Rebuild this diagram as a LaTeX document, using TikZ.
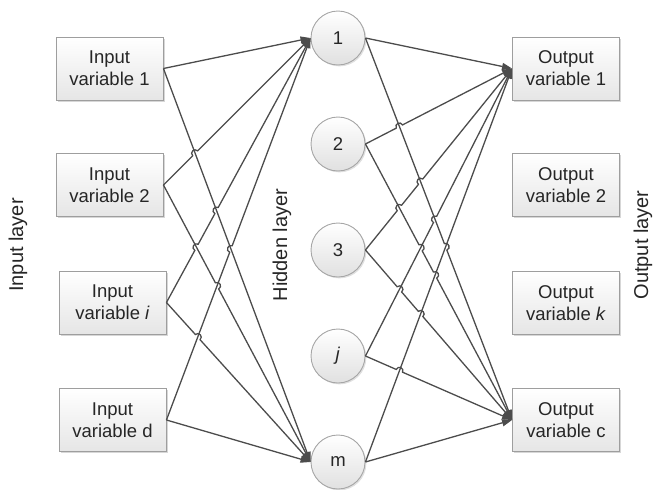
\documentclass[tikz,border=0pt]{standalone}
\usepackage{fontspec}
\setmainfont{Liberation Sans}
\usetikzlibrary{arrows.meta,calc,intersections,shadows}

\tikzset{
  labelfont/.style={font=\fontsize{18.5}{22}\selectfont},
  varbox/.style={labelfont, draw=black!38, line width=0.9pt, top color=white, bottom color=black!10,
    minimum width=107pt, minimum height=63pt, align=center, inner sep=0pt, text=black!85,
    drop shadow={shadow xshift=1.6pt, shadow yshift=-1.6pt, fill=black!35, opacity=0.45}},
  unit/.style={labelfont, circle, draw=black!35, line width=0.9pt, top color=white, bottom color=black!12,
    minimum size=54pt, inner sep=0pt, text=black!85,
    drop shadow={shadow xshift=1.4pt, shadow yshift=-1.4pt, fill=black!30, opacity=0.4}},
  layername/.style={font=\fontsize{20}{24}\selectfont, rotate=90, text=black!85},
  conn/.style={draw=black!70, line width=1.3pt, -{Triangle[length=10pt,width=7pt]}},
  hop/.style={bend left=90, looseness=1.7},
}

\begin{document}
\begin{tikzpicture}[x=1pt, y=-1pt]
\useasboundingbox (0,0) rectangle (662,490);

% input layer
\node[varbox] (in1) at (109.5,68.5) {Input\\variable 1};
\node[varbox] (in2) at (109.5,185)  {Input\\variable 2};
\node[varbox] (ini) at (112.5,302.5) {Input\\variable \textit{i}};
\node[varbox] (ind) at (112.5,420)  {Input\\variable d};

% hidden layer
\node[unit] (h1) at (338,38)  {1};
\node[unit] (h2) at (338,144) {2};
\node[unit] (h3) at (338,250) {3};
\node[unit] (hj) at (338,356) {\textit{j}};
\node[unit] (hm) at (338,462) {m};

% output layer
\node[varbox] (o1) at (566,68.5) {Output\\variable 1};
\node[varbox] (o2) at (566,185)  {Output\\variable 2};
\node[varbox] (ok) at (566,303)  {Output\\variable \textit{k}};
\node[varbox] (oc) at (566,420)  {Output\\variable c};

% layer captions
\node[layername] (lin)  at (18,245)  {Input layer};
\node[layername] (lhid) at (282,245) {Hidden layer};
\node[layername] (lout) at (643,245) {Output layer};

% guide paths used to locate the line jumps
\path[name path=pb] (in1.east) -- (hm.west);
\path[name path=pc] (in2.east) -- (h1.west);
\path[name path=pd] (in2.east) -- (hm.west);
\path[name path=pe] (ini.east) -- (h1.west);
\path[name path=pf] (ini.east) -- (hm.west);
\path[name path=pg] (ind.east) -- (h1.west);

\path[name path=q2] (h1.east) -- (oc.west);
\path[name path=q3] (h2.east) -- (o1.west);
\path[name path=q4] (h2.east) -- (oc.west);
\path[name path=q5] (h3.east) -- (o1.west);
\path[name path=q6] (h3.east) -- (oc.west);
\path[name path=q7] (hj.east) -- (o1.west);
\path[name path=q8] (hj.east) -- (oc.west);
\path[name path=q9] (hm.east) -- (o1.west);

\path[name intersections={of=pc and pb, by=Xcb}];
\path[name intersections={of=pe and pd, by=Xed}];
\path[name intersections={of=pe and pb, by=Xeb}];
\path[name intersections={of=pg and pb, by=Xgb}];
\path[name intersections={of=pd and pg, by=Xdg}];
\path[name intersections={of=pf and pg, by=Xfg}];

\path[name intersections={of=q2 and q9, by=Y29}];
\path[name intersections={of=q3 and q2, by=Y32}];
\path[name intersections={of=q4 and q7, by=Y47}];
\path[name intersections={of=q4 and q9, by=Y49}];
\path[name intersections={of=q5 and q4, by=Y54}];
\path[name intersections={of=q5 and q2, by=Y52}];
\path[name intersections={of=q6 and q7, by=Y67}];
\path[name intersections={of=q6 and q9, by=Y69}];
\path[name intersections={of=q7 and q2, by=Y72}];
\path[name intersections={of=q8 and q9, by=Y89}];

% input -> hidden connections
\draw[conn] (in1.east) -- (h1.west);
\draw[conn] (in1.east) -- (hm.west);
\draw[conn] (in2.east) -- ($(Xcb)!3.5pt!(in2.east)$) to[hop] ($(Xcb)!3.5pt!(h1.west)$) -- (h1.west);
\draw[conn] (in2.east) -- ($(Xdg)!3.5pt!(in2.east)$) to[hop] ($(Xdg)!3.5pt!(hm.west)$) -- (hm.west);
\draw[conn] (ini.east) -- ($(Xed)!3.5pt!(ini.east)$) to[hop] ($(Xed)!3.5pt!(h1.west)$)
  -- ($(Xeb)!3.5pt!(ini.east)$) to[hop] ($(Xeb)!3.5pt!(h1.west)$) -- (h1.west);
\draw[conn] (ini.east) -- ($(Xfg)!3.5pt!(ini.east)$) to[hop] ($(Xfg)!3.5pt!(hm.west)$) -- (hm.west);
\draw[conn] (ind.east) -- ($(Xgb)!3.5pt!(ind.east)$) to[hop] ($(Xgb)!3.5pt!(h1.west)$) -- (h1.west);
\draw[conn] (ind.east) -- (hm.west);

% hidden -> output connections
\draw[conn] (h1.east) -- (o1.west);
\draw[conn] (h1.east) -- ($(Y29)!3.5pt!(h1.east)$) to[hop] ($(Y29)!3.5pt!(oc.west)$) -- (oc.west);
\draw[conn] (h2.east) -- ($(Y32)!3.5pt!(h2.east)$) to[hop] ($(Y32)!3.5pt!(o1.west)$) -- (o1.west);
\draw[conn] (h2.east) -- ($(Y47)!3.5pt!(h2.east)$) to[hop] ($(Y47)!3.5pt!(oc.west)$)
  -- ($(Y49)!3.5pt!(h2.east)$) to[hop] ($(Y49)!3.5pt!(oc.west)$) -- (oc.west);
\draw[conn] (h3.east) -- ($(Y54)!3.5pt!(h3.east)$) to[hop] ($(Y54)!3.5pt!(o1.west)$)
  -- ($(Y52)!3.5pt!(h3.east)$) to[hop] ($(Y52)!3.5pt!(o1.west)$) -- (o1.west);
\draw[conn] (h3.east) -- ($(Y67)!3.5pt!(h3.east)$) to[hop] ($(Y67)!3.5pt!(oc.west)$)
  -- ($(Y69)!3.5pt!(h3.east)$) to[hop] ($(Y69)!3.5pt!(oc.west)$) -- (oc.west);
\draw[conn] (hj.east) -- ($(Y72)!3.5pt!(hj.east)$) to[hop] ($(Y72)!3.5pt!(o1.west)$) -- (o1.west);
\draw[conn] (hj.east) -- ($(Y89)!3.5pt!(hj.east)$) to[hop] ($(Y89)!3.5pt!(oc.west)$) -- (oc.west);
\draw[conn] (hm.east) -- (o1.west);
\draw[conn] (hm.east) -- (oc.west);
\end{tikzpicture}
\end{document}
